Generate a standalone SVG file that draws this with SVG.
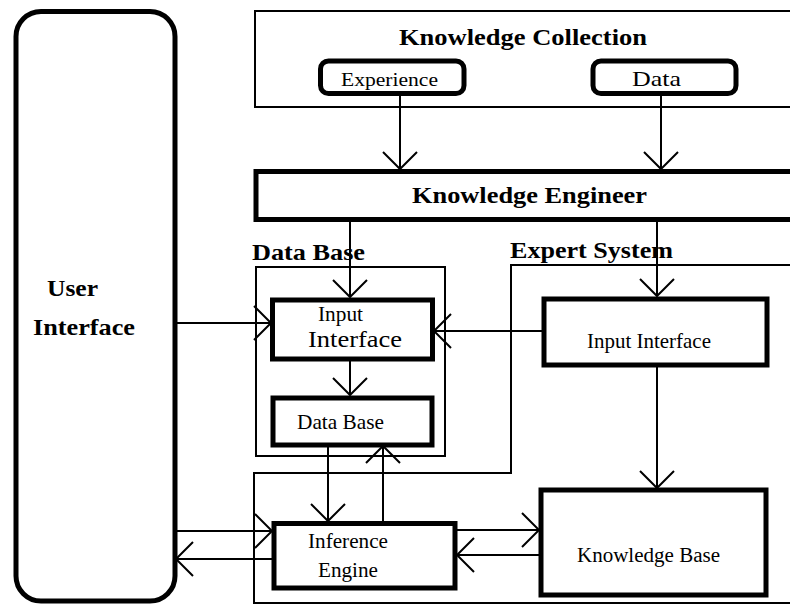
<svg xmlns="http://www.w3.org/2000/svg" width="790" height="606" viewBox="0 0 790 606">
  <style>
    .frame { fill: none; stroke: #000; stroke-width: 2; }
    .box { fill: #fff; stroke: #000; stroke-width: 5; }
    .wire { fill: none; stroke: #000; stroke-width: 2; }
    .t { font-family: "Liberation Serif", "Times New Roman", serif; fill: #000; }
    .b { font-weight: bold; font-size: 24px; }
    .r { font-size: 21px; }
  </style>
  <defs>
    <marker id="arrow" markerUnits="userSpaceOnUse" viewBox="-20 -20 40 40" markerWidth="40" markerHeight="40" refX="0" refY="0" orient="auto" overflow="visible">
      <path d="M-17,-17 L0,0 L-17,17" fill="none" stroke="#000" stroke-width="2"/>
    </marker>
  </defs>
  <rect width="790" height="606" fill="#fff"/>

  <!-- grouping frames -->
  <g id="knowledge-collection">
    <rect class="frame" x="255" y="11" width="600" height="96"/>
    <text class="t b" x="399" y="45" textLength="248" lengthAdjust="spacingAndGlyphs">Knowledge Collection</text>
  </g>
  <g id="data-base-frame">
    <rect class="frame" x="256" y="267" width="189" height="189"/>
    <text class="t b" x="252" y="260" textLength="113" lengthAdjust="spacingAndGlyphs">Data Base</text>
  </g>
  <g id="expert-system">
    <path class="frame" d="M856,265 H511 V473 H254 V603 H856"/>
    <text class="t b" x="510" y="258" textLength="163" lengthAdjust="spacingAndGlyphs">Expert System</text>
  </g>

  <!-- connectors -->
  <g id="connectors">
    <line class="wire" x1="400" y1="94" x2="400" y2="169" marker-end="url(#arrow)"/>
    <line class="wire" x1="661" y1="94" x2="661" y2="169" marker-end="url(#arrow)"/>
    <line class="wire" x1="350" y1="219" x2="350" y2="297" marker-end="url(#arrow)"/>
    <line class="wire" x1="657" y1="219" x2="657" y2="296" marker-end="url(#arrow)"/>
    <line class="wire" x1="175" y1="323" x2="271" y2="323" marker-end="url(#arrow)"/>
    <line class="wire" x1="544" y1="331" x2="434" y2="331" marker-end="url(#arrow)"/>
    <line class="wire" x1="350" y1="359" x2="350" y2="395" marker-end="url(#arrow)"/>
    <line class="wire" x1="657" y1="365" x2="657" y2="488" marker-end="url(#arrow)"/>
    <line class="wire" x1="328" y1="445" x2="328" y2="521" marker-end="url(#arrow)"/>
    <line class="wire" x1="383" y1="523" x2="383" y2="446" marker-end="url(#arrow)"/>
    <line class="wire" x1="175" y1="531" x2="272" y2="531" marker-end="url(#arrow)"/>
    <line class="wire" x1="274" y1="559" x2="176" y2="559" marker-end="url(#arrow)"/>
    <line class="wire" x1="455" y1="530" x2="539" y2="530" marker-end="url(#arrow)"/>
    <line class="wire" x1="541" y1="555" x2="457" y2="555" marker-end="url(#arrow)"/>
  </g>

  <!-- nodes -->
  <g id="user-interface">
    <rect x="16" y="11.5" width="159" height="589.5" rx="25" fill="none" stroke="#000" stroke-width="5"/>
    <text class="t b" x="47" y="296" textLength="51" lengthAdjust="spacingAndGlyphs">User</text>
    <text class="t b" x="33" y="335" textLength="102" lengthAdjust="spacingAndGlyphs">Interface</text>
  </g>
  <g id="experience">
    <rect class="box" x="320.5" y="61" width="143.5" height="32.5" rx="8"/>
    <text class="t" x="341" y="86" font-size="19" textLength="97" lengthAdjust="spacingAndGlyphs">Experience</text>
  </g>
  <g id="data">
    <rect class="box" x="593" y="61" width="143" height="32.5" rx="8"/>
    <text class="t" x="632" y="86" font-size="22" textLength="49" lengthAdjust="spacingAndGlyphs">Data</text>
  </g>
  <g id="knowledge-engineer">
    <rect class="box" x="256" y="171.5" width="600" height="48"/>
    <text class="t b" x="412" y="203" textLength="235" lengthAdjust="spacingAndGlyphs">Knowledge Engineer</text>
  </g>
  <g id="db-input-interface">
    <rect class="box" x="272.5" y="300" width="160" height="59"/>
    <text class="t" x="318" y="321" font-size="20" textLength="45" lengthAdjust="spacingAndGlyphs">Input</text>
    <text class="t" x="308" y="347" font-size="24" textLength="94" lengthAdjust="spacingAndGlyphs">Interface</text>
  </g>
  <g id="data-base">
    <rect class="box" x="273" y="398" width="159" height="47"/>
    <text class="t r" x="297" y="429" textLength="87" lengthAdjust="spacingAndGlyphs">Data Base</text>
  </g>
  <g id="es-input-interface">
    <rect class="box" x="544" y="299" width="223" height="66"/>
    <text class="t r" x="587" y="348" textLength="124" lengthAdjust="spacingAndGlyphs">Input Interface</text>
  </g>
  <g id="inference-engine">
    <rect class="box" x="274" y="523.5" width="181" height="64.5"/>
    <text class="t r" x="308" y="548" textLength="80" lengthAdjust="spacingAndGlyphs">Inference</text>
    <text class="t r" x="318" y="577" textLength="60" lengthAdjust="spacingAndGlyphs">Engine</text>
  </g>
  <g id="knowledge-base">
    <rect class="box" x="541" y="490" width="225" height="105"/>
    <text class="t" x="577" y="562" font-size="20" textLength="143" lengthAdjust="spacingAndGlyphs">Knowledge Base</text>
  </g>
</svg>
